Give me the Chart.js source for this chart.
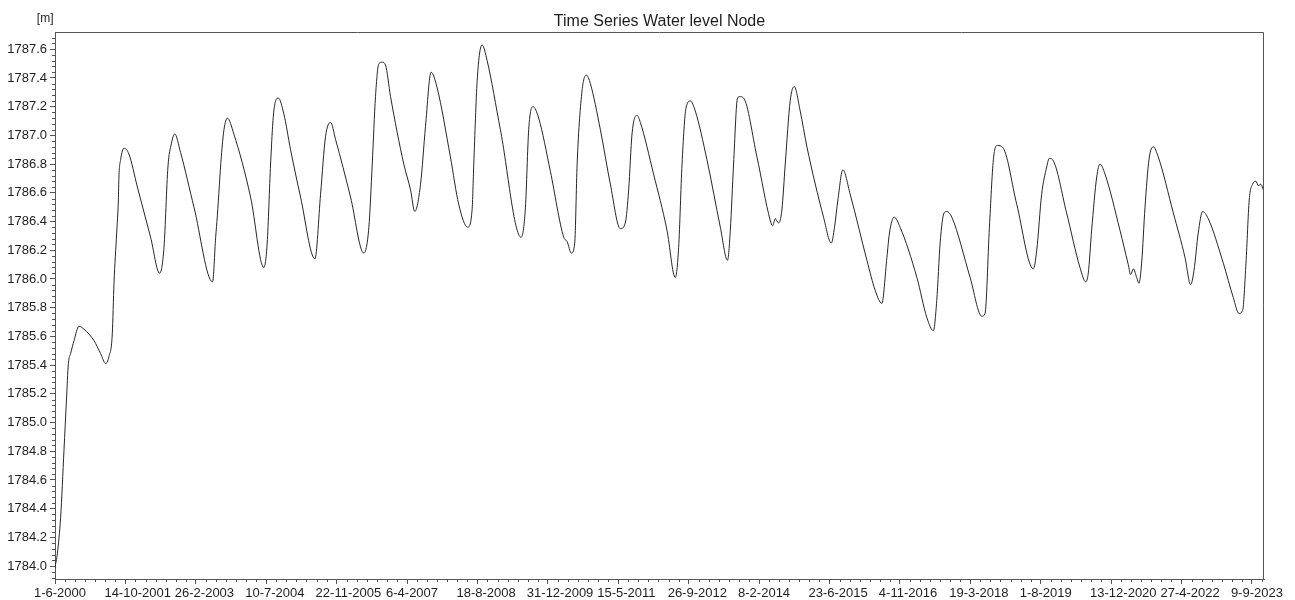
<!DOCTYPE html>
<html>
<head>
<meta charset="utf-8">
<title>Time Series Water level Node</title>
<script src="https://cdn.jsdelivr.net/npm/chart.js@4.4.1/dist/chart.umd.min.js"></script>
<style>
  html, body { margin: 0; padding: 0; background: #ffffff; }
  #wrap { width: 1295px; height: 600px; }
</style>
</head>
<body>
<div id="wrap"><canvas id="chart" width="1295" height="600"></canvas></div>
<script>
// Water level at the node, sampled at the turning points of the record
const dates = [
  '2000-06-01','2000-06-18','2000-07-11','2000-08-04','2000-08-21','2000-09-04','2000-09-20','2000-10-14','2000-11-18','2000-12-24',
  '2001-03-05','2001-04-21','2001-05-27','2001-06-19','2001-07-13','2001-07-25','2001-08-13','2001-08-25','2001-08-29','2001-09-10','2001-10-04','2001-11-08',
  '2002-01-07','2002-04-11','2002-06-14','2002-07-15','2002-08-12','2002-09-05','2002-09-29','2002-11-10',
  '2003-02-13','2003-06-25','2003-07-17','2003-07-29','2003-08-26','2003-09-14','2003-10-08','2003-11-23',
  '2004-03-21','2004-06-23','2004-07-17','2004-08-10','2004-09-02','2004-10-04','2004-11-12','2004-12-30',
  '2005-03-11','2005-06-21','2005-07-31','2005-09-04','2005-10-10','2005-11-15',
  '2006-03-01','2006-06-03','2006-07-09','2006-08-02','2006-08-25','2006-09-18','2006-10-12','2006-11-04','2006-12-10',
  '2007-03-14','2007-05-01','2007-05-31','2007-07-11','2007-08-15','2007-09-24','2007-11-06',
  '2008-02-08','2008-04-07','2008-06-10','2008-07-11','2008-07-23','2008-08-16','2008-09-20','2008-10-26',
  '2009-01-28','2009-06-24','2009-07-25','2009-08-17','2009-09-17','2009-10-27',
  '2010-01-18','2010-04-23','2010-05-17','2010-06-16','2010-07-10','2010-07-27','2010-08-31','2010-10-01','2010-10-29',
  '2011-01-08','2011-03-20','2011-05-30','2011-07-04','2011-07-28','2011-08-21','2011-09-25','2011-10-19',
  '2012-01-21','2012-04-25','2012-06-23','2012-07-17','2012-08-10','2012-09-07','2012-10-08','2012-11-12',
  '2013-02-03','2013-05-09','2013-06-29','2013-07-19','2013-08-11','2013-09-08','2013-09-23','2013-10-21',
  '2014-01-24','2014-04-28','2014-05-15','2014-06-03','2014-06-26','2014-07-20','2014-08-13','2014-09-17','2014-10-16','2014-11-27',
  '2015-01-14','2015-05-12','2015-07-06','2015-07-29','2015-08-22','2015-09-26','2015-11-17',
  '2016-03-15','2016-05-13','2016-06-29','2016-08-04','2016-08-22','2016-09-25','2016-11-06',
  '2017-03-05','2017-05-15','2017-06-30','2017-07-24','2017-08-17','2017-09-14','2017-10-03','2017-11-08',
  '2018-03-18','2018-06-09','2018-07-02','2018-08-02','2018-08-30','2018-09-28','2018-11-09',
  '2019-02-12','2019-06-10','2019-07-04','2019-08-08','2019-09-13','2019-10-01','2019-10-25',
  '2020-02-01','2020-05-06','2020-06-16','2020-07-04','2020-07-28','2020-09-02','2020-09-25','2020-10-31',
  '2021-02-14','2021-04-14','2021-05-01','2021-05-20','2021-06-13','2021-06-29','2021-07-18','2021-08-11','2021-09-08','2021-10-09','2021-11-13',
  '2022-02-28','2022-05-22','2022-07-01','2022-07-25','2022-08-24','2022-09-24','2022-11-03',
  '2023-02-18','2023-04-30','2023-06-09','2023-07-05','2023-07-29','2023-08-21','2023-09-14','2023-10-08','2023-10-24','2023-11-10','2023-12-04'
];

const levels = [
  1783.99, 1784.09, 1784.34, 1784.81, 1785.15, 1785.41, 1785.48, 1785.57, 1785.67, 1785.65,
  1785.57, 1785.48, 1785.41, 1785.46, 1785.62, 1785.97, 1786.32, 1786.55, 1786.71, 1786.83, 1786.91, 1786.87,
  1786.64, 1786.29, 1786.04, 1786.22, 1786.78, 1786.94, 1787.01, 1786.88,
  1786.50, 1785.98, 1786.29, 1786.44, 1786.85, 1787.04, 1787.12, 1787.01,
  1786.57, 1786.08, 1786.25, 1786.80, 1787.17, 1787.26, 1787.15, 1786.90,
  1786.57, 1786.14, 1786.59, 1786.99, 1787.09, 1786.97,
  1786.57, 1786.18, 1786.36, 1786.80, 1787.27, 1787.50, 1787.51, 1787.49, 1787.27,
  1786.80, 1786.62, 1786.47, 1786.66, 1787.06, 1787.44, 1787.33,
  1786.85, 1786.52, 1786.36, 1786.48, 1786.80, 1787.38, 1787.63, 1787.52,
  1787.04, 1786.29, 1786.50, 1787.04, 1787.20, 1787.12,
  1786.75, 1786.29, 1786.26, 1786.18, 1786.25, 1786.80, 1787.31, 1787.42, 1787.36,
  1787.04, 1786.66, 1786.35, 1786.39, 1786.62, 1787.01, 1787.14, 1787.09,
  1786.73, 1786.34, 1786.01, 1786.22, 1786.80, 1787.19, 1787.24, 1787.17,
  1786.83, 1786.36, 1786.13, 1786.34, 1786.80, 1787.26, 1787.27, 1787.26,
  1786.85, 1786.41, 1786.37, 1786.42, 1786.39, 1786.48, 1786.80, 1787.24, 1787.34, 1787.17,
  1786.92, 1786.43, 1786.25, 1786.36, 1786.55, 1786.76, 1786.59,
  1786.13, 1785.92, 1785.83, 1786.15, 1786.32, 1786.43, 1786.36,
  1786.01, 1785.73, 1785.64, 1785.85, 1786.25, 1786.46, 1786.47, 1786.43,
  1786.01, 1785.74, 1785.76, 1786.36, 1786.83, 1786.93, 1786.91,
  1786.52, 1786.07, 1786.20, 1786.59, 1786.78, 1786.84, 1786.83,
  1786.46, 1786.08, 1785.98, 1786.04, 1786.34, 1786.71, 1786.80, 1786.73,
  1786.34, 1786.10, 1786.03, 1786.07, 1786.01, 1785.97, 1786.11, 1786.50, 1786.83, 1786.92, 1786.85,
  1786.46, 1786.15, 1785.96, 1786.06, 1786.32, 1786.47, 1786.42,
  1786.11, 1785.87, 1785.76, 1785.78, 1786.11, 1786.55, 1786.66, 1786.68, 1786.65, 1786.66, 1786.61
];

// Axis ticks: dates every 500 days, levels every 0.2 m
const xTickDates = [
  '2000-06-01','2001-10-14','2003-02-26','2004-07-10','2005-11-22','2007-04-06',
  '2008-08-18','2009-12-31','2011-05-15','2012-09-26','2014-02-08','2015-06-23',
  '2016-11-04','2018-03-19','2019-08-01','2020-12-13','2022-04-27','2023-09-09'
];
const yTickLabels = [
  '1784.0','1784.2','1784.4','1784.6','1784.8','1785.0','1785.2','1785.4','1785.6','1785.8',
  '1786.0','1786.2','1786.4','1786.6','1786.8','1787.0','1787.2','1787.4','1787.6'
];

const chartTitle = 'Time Series Water level Node';
const unitLabel = '[m]';

// Dates are plotted as whole days since 1970-01-01 (UTC)
function dayNumber(iso) {
  const [y, m, d] = iso.split('-').map(Number);
  return Date.UTC(y, m - 1, d) / 86400000;
}
function formatDay(n) {
  const dt = new Date(n * 86400000);
  return dt.getUTCDate() + '-' + (dt.getUTCMonth() + 1) + '-' + dt.getUTCFullYear();
}

const points = dates.map((d, i) => ({ x: dayNumber(d), y: levels[i] }));
const xTickValues = xTickDates.map(dayNumber);
const yTickValues = yTickLabels.map(Number);

const FONT = "'Liberation Sans', Arial, sans-serif";
const TEXT = '#1e1e1e';
const AXIS = '#555555';

// Minor ticks, plot frame, title and unit label
const decorations = {
  id: 'decorations',
  afterDraw(chart) {
    const { ctx, chartArea: a } = chart;
    const xs = chart.scales.x, ys = chart.scales.y;
    ctx.save();
    ctx.strokeStyle = AXIS;
    ctx.lineWidth = 1;
    ctx.beginPath();
    // top and right sides of the frame
    ctx.moveTo(Math.round(a.left) + 0.5, Math.round(a.top) + 0.5);
    ctx.lineTo(Math.round(a.right) - 0.5, Math.round(a.top) + 0.5);
    ctx.lineTo(Math.round(a.right) - 0.5, Math.round(a.bottom));
    // minor ticks on the date axis (7 per major interval)
    const xStep = (xTickValues[1] - xTickValues[0]) / 7;
    for (let k = 1; ; k++) {
      const v = xTickValues[0] + k * xStep;
      if (v > xs.max) break;
      if (k % 7 === 0) continue;
      const px = Math.round(xs.getPixelForValue(v)) + 0.5;
      ctx.moveTo(px, a.bottom);
      ctx.lineTo(px, a.bottom + 3);
    }
    // minor ticks on the level axis (5 per major interval)
    const yStep = (yTickValues[1] - yTickValues[0]) / 5;
    for (let k = -5; ; k++) {
      const v = yTickValues[0] + k * yStep;
      if (v > ys.max) break;
      if (v < ys.min || k % 5 === 0) continue;
      const py = Math.round(ys.getPixelForValue(v)) + 0.5;
      ctx.moveTo(a.left - 3, py);
      ctx.lineTo(a.left, py);
    }
    ctx.stroke();

    ctx.fillStyle = TEXT;
    ctx.textBaseline = 'alphabetic';
    ctx.font = '16px ' + FONT;
    ctx.textAlign = 'center';
    ctx.fillText(chartTitle, (a.left + a.right) / 2, 26);
    ctx.font = '12px ' + FONT;
    ctx.textAlign = 'right';
    ctx.fillText(unitLabel, 53.5, 21.5);
    ctx.restore();
  }
};

new Chart(document.getElementById('chart').getContext('2d'), {
  type: 'line',
  data: {
    datasets: [{
      label: 'Water level',
      data: points,
      borderColor: '#262626',
      borderWidth: 1,
      pointRadius: 0,
      fill: false,
      cubicInterpolationMode: 'monotone'
    }]
  },
  options: {
    responsive: false,
    animation: false,
    devicePixelRatio: 1,
    layout: { padding: { top: 32, right: 31, left: 0, bottom: 0 } },
    plugins: {
      legend: { display: false },
      tooltip: { enabled: false },
      title: { display: false }
    },
    scales: {
      x: {
        type: 'linear',
        position: 'bottom',
        min: dayNumber(dates[0]),
        max: dayNumber(dates[dates.length - 1]),
        afterBuildTicks(scale) { scale.ticks = xTickValues.map(v => ({ value: v })); },
        afterFit(scale) { scale.height = 21; scale.paddingLeft = 0; scale.paddingRight = 0; },
        grid: { drawOnChartArea: false, tickLength: 5, color: AXIS },
        border: { color: AXIS },
        ticks: {
          autoSkip: false,
          maxRotation: 0,
          minRotation: 0,
          align: 'start',
          labelOffset: -21,
          padding: 2,
          color: TEXT,
          font: { family: FONT, size: 13 },
          callback: v => formatDay(v)
        }
      },
      y: {
        type: 'linear',
        position: 'left',
        min: 1783.91,
        max: 1787.72,
        afterBuildTicks(scale) { scale.ticks = yTickValues.map(v => ({ value: v })); },
        afterFit(scale) { scale.width = 55; scale.paddingTop = 0; scale.paddingBottom = 0; },
        grid: { drawOnChartArea: false, tickLength: 5, color: AXIS },
        border: { color: AXIS },
        ticks: {
          autoSkip: false,
          padding: 3,
          color: TEXT,
          font: { family: FONT, size: 13 },
          callback: v => Number(v).toFixed(1)
        }
      }
    }
  },
  plugins: [decorations]
});
</script>
</body>
</html>
